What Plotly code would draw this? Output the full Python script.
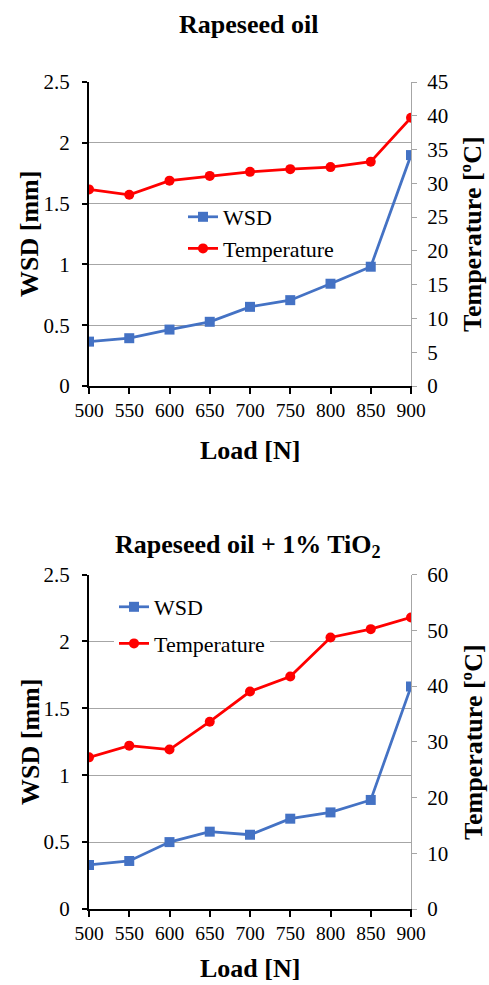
import plotly.graph_objects as go

load = [500, 550, 600, 650, 700, 750, 800, 850, 900]

# Rapeseed oil
wsd_oil = [0.365, 0.393, 0.464, 0.528, 0.651, 0.706, 0.841, 0.981, 1.899]
temp_oil = [29.1, 28.3, 30.4, 31.1, 31.7, 32.1, 32.4, 33.2, 39.7]

# Rapeseed oil + 1% TiO2
wsd_tio2 = [0.329, 0.359, 0.500, 0.578, 0.555, 0.675, 0.722, 0.815, 1.662]
temp_tio2 = [27.2, 29.3, 28.6, 33.6, 39.0, 41.7, 48.7, 50.2, 52.3]

W, H = 489, 985
FONT = "Liberation Serif, Times New Roman, serif"
BLUE = "#4472C4"
RED = "#FF0000"
GRID = "#a6a6a6"

def px_x(p):
    return p / W

def px_y(p):
    return 1 - p / H

fig = go.Figure()

wsd_style = dict(mode="lines+markers", line=dict(color=BLUE, width=2.75),
                 marker=dict(symbol="square", size=10, color=BLUE))
temp_style = dict(mode="lines+markers", line=dict(color=RED, width=2.75),
                  marker=dict(symbol="circle", size=10, color=RED))

fig.add_trace(go.Scatter(x=load, y=wsd_oil, name="WSD", xaxis="x", yaxis="y",
                         legend="legend", **wsd_style))
fig.add_trace(go.Scatter(x=load, y=temp_oil, name="Temperature", xaxis="x", yaxis="y2",
                         legend="legend", **temp_style))
fig.add_trace(go.Scatter(x=load, y=wsd_tio2, name="WSD", xaxis="x2", yaxis="y3",
                         legend="legend2", legendgroup="a", **wsd_style))
fig.add_trace(go.Scatter(x=load, y=temp_tio2, name="Temperature", xaxis="x2", yaxis="y4",
                         legend="legend2", legendgroup="b", **temp_style))

xdom = [px_x(89), px_x(411)]
top_dom = [px_y(386), px_y(82)]
bot_dom = [px_y(909), px_y(574.5)]

xcommon = dict(range=[500, 900], dtick=50, tick0=500, showgrid=False, zeroline=False,
               showline=True, linecolor="black", linewidth=2, ticks="outside",
               ticklen=6, tickcolor="black", tickwidth=1.5, automargin=False,
               tickfont=dict(family=FONT, size=19.5, color="black"), domain=xdom)
ylcommon = dict(range=[0, 2.5], dtick=0.5, showgrid=True, gridcolor=GRID, gridwidth=1,
                zeroline=False, showline=True, linecolor="black", linewidth=2,
                ticks="outside", ticklen=5, tickcolor="black", tickwidth=1.5,
                ticklabelstandoff=8, automargin=False,
                tickfont=dict(family=FONT, size=21, color="black"))
yrcommon = dict(showgrid=False, zeroline=False, showline=True, linecolor=GRID, linewidth=1,
                ticks="outside", ticklen=5, tickcolor=GRID, tickwidth=1,
                ticklabelstandoff=6, automargin=False,
                tickfont=dict(family=FONT, size=21, color="black"), side="right")

fig.update_layout(
    template="none",
    width=W, height=H,
    margin=dict(l=0, r=0, t=0, b=0),
    paper_bgcolor="white", plot_bgcolor="white",
    font=dict(family=FONT, color="black"),
    xaxis=dict(anchor="y", **xcommon),
    xaxis2=dict(anchor="y3", **xcommon),
    yaxis=dict(anchor="x", domain=top_dom, **ylcommon),
    yaxis2=dict(anchor="x", overlaying="y", range=[0, 45], dtick=5, **yrcommon),
    yaxis3=dict(anchor="x2", domain=bot_dom, **ylcommon),
    yaxis4=dict(anchor="x2", overlaying="y3", range=[0, 60], dtick=10, **yrcommon),
    legend=dict(x=px_x(183), y=px_y(196), xanchor="left", yanchor="top",
                bgcolor="rgba(0,0,0,0)", font=dict(family=FONT, size=22, color="black")),
    legend2=dict(x=px_x(114), y=px_y(586), xanchor="left", yanchor="top",
                 bgcolor="white", traceorder="grouped", tracegroupgap=5,
                 font=dict(family=FONT, size=22, color="black")),
    showlegend=True,
)

ann_font = dict(family=FONT, size=26, color="black")
annotations = [
    dict(text="<b>Rapeseed oil</b>", x=px_x(248), y=px_y(25)),
    dict(text="<b>Rapeseed oil + 1% TiO<sub>2</sub></b>", x=px_x(248), y=px_y(546)),
    dict(text="<b>Load [N]</b>", x=px_x(250), y=px_y(450)),
    dict(text="<b>Load [N]</b>", x=px_x(250), y=px_y(968)),
    dict(text="<b>WSD [mm]</b>", x=px_x(30), y=px_y(234), textangle=-90),
    dict(text="<b>WSD [mm]</b>", x=px_x(30), y=px_y(742), textangle=-90),
    dict(text="<b>Temperature [ºC]</b>", x=px_x(473), y=px_y(234), textangle=-90),
    dict(text="<b>Temperature [ºC]</b>", x=px_x(473), y=px_y(742), textangle=-90),
]
for a in annotations:
    fig.add_annotation(xref="paper", yref="paper", xanchor="center", yanchor="middle",
                       showarrow=False, font=ann_font, **a)

fig.write_html("out.html")
